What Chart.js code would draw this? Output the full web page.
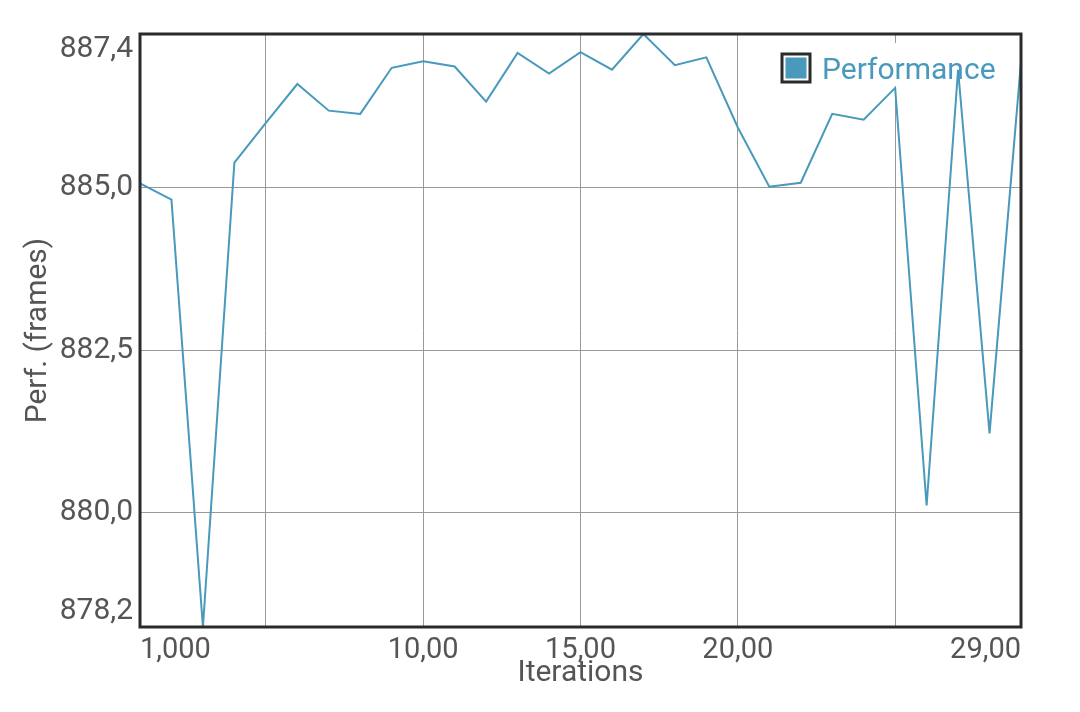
<!DOCTYPE html>
<html>
<head>
<meta charset="utf-8">
<script src="https://cdn.jsdelivr.net/npm/chart.js@4.4.0/dist/chart.umd.min.js"></script>
<style>
  html, body { margin: 0; padding: 0; background: #fff; }
</style>
</head>
<body>
<canvas id="perfChart" width="1080" height="712"></canvas>
<script>
// values
const iterations = [1, 2, 3, 4, 5, 6, 7, 8, 9, 10, 11, 12, 13, 14, 15,
    16, 17, 18, 19, 20, 21, 22, 23, 24, 25, 26, 27, 28, 29];
const perfValues = [885.07, 884.82, 878.24, 885.39, 886.0, 886.6, 886.19, 886.14,
    886.85, 886.95, 886.87, 886.33, 887.08, 886.76, 887.09, 886.82, 887.37,
    886.89, 887.01, 885.93, 885.02, 885.08, 886.14, 886.05, 886.54, 880.11,
    886.82, 881.22, 886.94];
const xTicks = [1, 5, 10, 15, 20, 25, 29];
const xLabelled = [1, 10, 15, 20, 29];
const yTicks = [878.24, 880, 882.5, 885, 887.37];

const lineColor = "#4899bb";
const textColor = "#555555";

Chart.defaults.font.family = "Roboto";

// dark frame round the plot area
const frame = {
    id: "frame",
    afterDatasetsDraw(chart) {
        const { ctx, chartArea: a } = chart;
        ctx.save();
        ctx.strokeStyle = "#2b2b2b";
        ctx.lineWidth = 3;
        ctx.strokeRect(a.left, a.top, a.right - a.left, a.bottom - a.top);
        ctx.restore();
    }
};

// legend sits inside the plot, under the line
const insideLegend = {
    id: "insideLegend",
    beforeDatasetsDraw(chart) {
        const { ctx, chartArea: a } = chart;
        const ds = chart.data.datasets[0];
        const x = a.right - 239;
        const y = a.top + 20;
        ctx.save();
        ctx.fillStyle = "#fff";
        ctx.fillRect(x - 11, y - 11, 232, 52);
        ctx.strokeStyle = "#2b2b2b";
        ctx.lineWidth = 3;
        ctx.strokeRect(x, y, 28, 28);
        ctx.fillStyle = ds.borderColor;
        ctx.fillRect(x + 3.5, y + 3.5, 21, 21);
        ctx.font = "30px Roboto";
        ctx.textBaseline = "alphabetic";
        ctx.fillText(ds.label, x + 40, y + 25);
        ctx.restore();
    }
};

// first and last y labels are pushed inside the plot (empty extra line)
function yLabel(v, i, ticks) {
    const txt = v.toFixed(1).replace(".", ",");
    if (i === 0) return [txt, ""];
    if (i === ticks.length - 1) return ["", txt];
    return txt;
}

new Chart(document.getElementById("perfChart"), {
    type: "line",
    data: {
        datasets: [{
            label: "Performance",
            data: iterations.map((it, i) => ({ x: it, y: perfValues[i] })),
            borderColor: lineColor,
            backgroundColor: lineColor,
            borderWidth: 2,
            pointRadius: 0,
            tension: 0,
            fill: false
        }]
    },
    options: {
        responsive: false,
        animation: false,
        layout: { padding: { top: 34, right: 59, bottom: 0, left: 0 } },
        plugins: {
            legend: { display: false },
            tooltip: { enabled: false }
        },
        scales: {
            x: {
                type: "linear",
                min: 1,
                max: 29,
                afterBuildTicks: (s) => { s.ticks = xTicks.map(v => ({ value: v })); },
                afterFit: (s) => {
                    s.height = 85;
                    s.paddingLeft = 0;
                    s.paddingRight = 0;
                },
                ticks: {
                    autoSkip: false,
                    maxRotation: 0,
                    align: "inner",
                    padding: 6,
                    color: textColor,
                    font: { size: 29 },
                    callback: (v) => xLabelled.includes(v) ? v.toPrecision(4).replace(".", ",") : ""
                },
                grid: { color: "#999", lineWidth: 1, drawTicks: false },
                border: { display: false },
                title: {
                    display: true,
                    text: "Iterations",
                    color: textColor,
                    font: { size: 30 },
                    padding: { top: 0, bottom: 21 }
                }
            },
            y: {
                min: 878.24,
                max: 887.37,
                afterBuildTicks: (s) => { s.ticks = yTicks.map(v => ({ value: v })); },
                afterFit: (s) => {
                    s.width = 140;
                    s.paddingTop = 0;
                    s.paddingBottom = 0;
                },
                ticks: {
                    padding: 7,
                    color: textColor,
                    font: { size: 30, lineHeight: 1.05 },
                    callback: yLabel
                },
                grid: { color: "#999", lineWidth: 1, drawTicks: false },
                border: { display: false },
                title: {
                    display: true,
                    text: "Perf. (frames)",
                    color: textColor,
                    font: { size: 30 },
                    padding: { top: 20, bottom: 0 }
                }
            }
        }
    },
    plugins: [insideLegend, frame]
});
</script>
</body>
</html>
